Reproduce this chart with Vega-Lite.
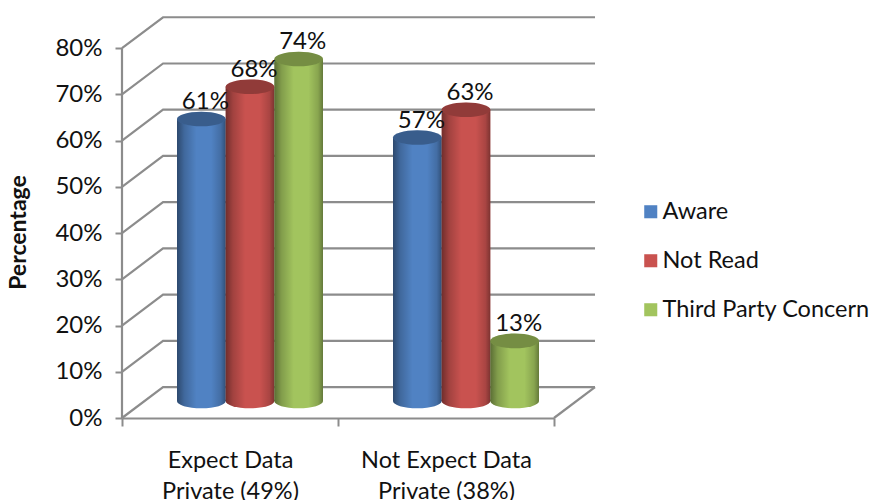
{
  "$schema": "https://vega.github.io/schema/vega-lite/v6.json",
  "width": 473,
  "height": 416,
  "autosize": {"type": "none"},
  "padding": {"left": 122, "top": 2, "right": 278, "bottom": 82},
  "background": "white",
  "view": {"stroke": null},
  "config": {"font": "Lato"},
  "datasets": {
    "results": [
      {"group": "Expect Data|Private (49%)", "series": "Aware", "share": 0.61},
      {"group": "Expect Data|Private (49%)", "series": "Not Read", "share": 0.68},
      {"group": "Expect Data|Private (49%)", "series": "Third Party Concern", "share": 0.74},
      {"group": "Not Expect Data|Private (38%)", "series": "Aware", "share": 0.57},
      {"group": "Not Expect Data|Private (38%)", "series": "Not Read", "share": 0.63},
      {"group": "Not Expect Data|Private (38%)", "series": "Third Party Concern", "share": 0.13}
    ],
    "frame": [
      {"edge": "axis", "along": 0, "level": 0},
      {"edge": "axis", "along": 0, "level": 0.8},
      {"edge": "floor", "along": 2, "level": 0},
      {"edge": "floor", "along": 2.19, "level": 0.067},
      {"edge": "g0", "along": 0, "level": 0},
      {"edge": "g0", "along": 0.19, "level": 0.067},
      {"edge": "g0", "along": 2.19, "level": 0.067},
      {"edge": "g10", "along": 0, "level": 0.1},
      {"edge": "g10", "along": 0.19, "level": 0.167},
      {"edge": "g10", "along": 2.19, "level": 0.167},
      {"edge": "g20", "along": 0, "level": 0.2},
      {"edge": "g20", "along": 0.19, "level": 0.267},
      {"edge": "g20", "along": 2.19, "level": 0.267},
      {"edge": "g30", "along": 0, "level": 0.3},
      {"edge": "g30", "along": 0.19, "level": 0.367},
      {"edge": "g30", "along": 2.19, "level": 0.367},
      {"edge": "g40", "along": 0, "level": 0.4},
      {"edge": "g40", "along": 0.19, "level": 0.467},
      {"edge": "g40", "along": 2.19, "level": 0.467},
      {"edge": "g50", "along": 0, "level": 0.5},
      {"edge": "g50", "along": 0.19, "level": 0.567},
      {"edge": "g50", "along": 2.19, "level": 0.567},
      {"edge": "g60", "along": 0, "level": 0.6},
      {"edge": "g60", "along": 0.19, "level": 0.667},
      {"edge": "g60", "along": 2.19, "level": 0.667},
      {"edge": "g70", "along": 0, "level": 0.7},
      {"edge": "g70", "along": 0.19, "level": 0.767},
      {"edge": "g70", "along": 2.19, "level": 0.767},
      {"edge": "g80", "along": 0, "level": 0.8},
      {"edge": "g80", "along": 0.19, "level": 0.867},
      {"edge": "g80", "along": 2.19, "level": 0.867}
    ]
  },
  "resolve": {"scale": {"x": "independent"}},
  "layer": [
    {
      "data": {"name": "frame"},
      "mark": {"type": "line", "color": "#8c8c8c", "strokeWidth": 2.2, "clip": false},
      "encoding": {
        "x": {"field": "along", "type": "quantitative", "axis": null, "scale": {"domain": [0, 2.19], "nice": false, "zero": false}},
        "y": {"field": "level", "type": "quantitative", "scale": {"domain": [0, 0.9], "nice": false},
          "axis": {
            "values": [0, 0.1, 0.2, 0.3, 0.4, 0.5, 0.6, 0.7, 0.8],
            "format": ".0%",
            "domain": false,
            "grid": false,
            "tickColor": "#8c8c8c",
            "tickWidth": 2,
            "tickSize": 7,
            "labelFontSize": 24,
            "labelColor": "#111111",
            "labelPadding": 13,
            "title": "Percentage",
            "titleFontSize": 23,
            "titleFontWeight": "bold",
            "titleColor": "#111111",
            "titleAngle": -90,
            "titleX": -92,
            "titleY": 230
          }
        },
        "detail": {"field": "edge"},
        "order": {"field": "along", "type": "quantitative"}
      }
    },
    {
      "data": {"name": "results"},
      "encoding": {
        "x": {
          "field": "group",
          "type": "nominal",
          "sort": null,
          "scale": {"range": [0, 432], "paddingInner": 0, "paddingOuter": 0},
          "axis": {
            "title": null,
            "tickBand": "extent",
            "domainColor": "#8c8c8c",
            "domainWidth": 2,
            "tickColor": "#8c8c8c",
            "tickWidth": 2,
            "tickSize": 8,
            "labelAngle": 0,
            "labelFontSize": 23.5,
            "labelColor": "#111111",
            "labelPadding": 22,
            "labelLineHeight": 31,
            "labelLimit": 0,
            "labelExpr": "split(datum.label, '|')"
          }
        },
        "xOffset": {"field": "series", "type": "nominal", "scale": {"range": [55, 201], "paddingInner": 0, "paddingOuter": 0}}
      },
      "layer": [
        {
          "mark": {"type": "point", "filled": true, "opacity": 1, "yOffset": -17, "size": 2369,
            "shape": "M-1,0 A1,0.3 0 1 1 1,0 A1,0.3 0 1 1 -1,0 Z"},
          "encoding": {
            "y": {"datum": 0, "type": "quantitative"},
            "color": {"field": "series", "type": "nominal",
              "scale": {"domain": ["Aware", "Not Read", "Third Party Concern"], "range": ["#5082c3", "#c9524f", "#a2c45e"]},
              "legend": {
                "title": null,
                "orient": "none",
                "legendX": 517,
                "legendY": 198,
                "symbolType": "square",
                "symbolSize": 170,
                "symbolOpacity": 1,
                "rowPadding": 24,
                "labelFontSize": 23.5,
                "labelColor": "#111111",
                "labelLimit": 0,
                "labelOffset": 0
              }
            }
          }
        },
        {
          "mark": {"type": "point", "filled": true, "yOffset": -17, "size": 2369, "opacity": 1,
            "shape": "M-1,0 A1,0.3 0 1 1 1,0 A1,0.3 0 1 1 -1,0 Z",
            "fill": {"gradient": "linear", "x1": 0, "x2": 1, "y1": 0, "y2": 0, "stops": [
              {"offset": 0, "color": "rgba(0,0,0,0.44)"},
              {"offset": 0.15, "color": "rgba(0,0,0,0.2)"},
              {"offset": 0.4, "color": "rgba(0,0,0,0)"},
              {"offset": 0.7, "color": "rgba(0,0,0,0)"},
              {"offset": 0.9, "color": "rgba(0,0,0,0.16)"},
              {"offset": 1, "color": "rgba(0,0,0,0.38)"}
            ]}},
          "encoding": {
            "y": {"datum": 0, "type": "quantitative"}
          }
        },
        {
          "mark": {"type": "bar", "yOffset": -17, "y2Offset": -17, "orient": "vertical"},
          "encoding": {
            "y": {"field": "share", "type": "quantitative"},
            "y2": {"datum": 0},
            "color": {"field": "series", "type": "nominal"}
          }
        },
        {
          "mark": {"type": "bar", "yOffset": -17, "y2Offset": -17, "orient": "vertical",
            "fill": {"gradient": "linear", "x1": 0, "x2": 1, "y1": 0, "y2": 0, "stops": [
              {"offset": 0, "color": "rgba(0,0,0,0.44)"},
              {"offset": 0.15, "color": "rgba(0,0,0,0.2)"},
              {"offset": 0.4, "color": "rgba(0,0,0,0)"},
              {"offset": 0.7, "color": "rgba(0,0,0,0)"},
              {"offset": 0.9, "color": "rgba(0,0,0,0.16)"},
              {"offset": 1, "color": "rgba(0,0,0,0.38)"}
            ]}},
          "encoding": {
            "y": {"field": "share", "type": "quantitative"},
            "y2": {"datum": 0}
          }
        },
        {
          "mark": {"type": "point", "filled": true, "opacity": 1, "yOffset": -17, "size": 2369,
            "shape": "M-1,0 A1,0.3 0 1 1 1,0 A1,0.3 0 1 1 -1,0 Z"},
          "encoding": {
            "y": {"field": "share", "type": "quantitative"},
            "color": {"field": "series", "type": "nominal"}
          }
        },
        {
          "mark": {"type": "point", "filled": true, "opacity": 0.28, "color": "black", "yOffset": -17, "size": 2369,
            "shape": "M-1,0 A1,0.3 0 1 1 1,0 A1,0.3 0 1 1 -1,0 Z"},
          "encoding": {
            "y": {"field": "share", "type": "quantitative"}
          }
        },
        {
          "mark": {"type": "text", "fontSize": 24, "color": "#111111", "dx": 4, "yOffset": -34},
          "encoding": {
            "y": {"field": "share", "type": "quantitative"},
            "text": {"field": "share", "type": "quantitative", "format": ".0%"}
          }
        }
      ]
    }
  ]
}
